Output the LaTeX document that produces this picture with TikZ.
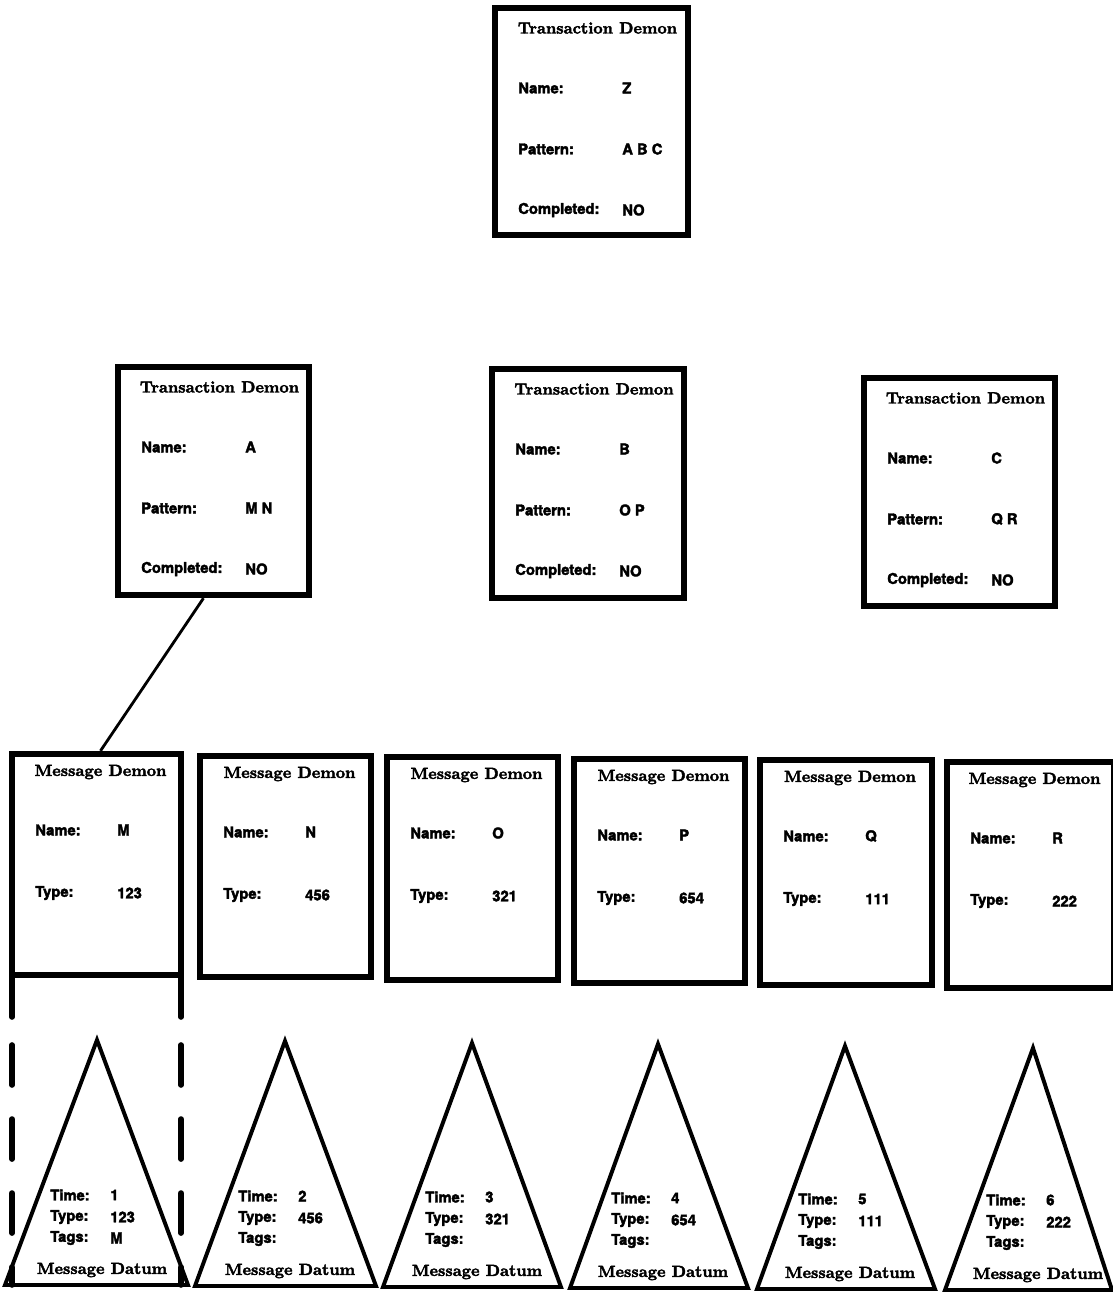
\documentclass[tikz,border=0pt]{standalone}
\usepackage{fontspec}
\usetikzlibrary{fit}
\newfontfamily\ttlfont{lmroman10-bold}[Extension=.otf, FakeBold=2.5]
\newfontfamily\lblfont{TeX Gyre Heros}[FakeBold=2.5]
\tikzset{
  demonbox/.style={draw, line width=4.5pt, inner sep=0pt},
  ttl/.style={font=\ttlfont\fontsize{11.5}{13}\selectfont, inner sep=0pt},
  lbl/.style={anchor=west, font=\lblfont\bfseries\fontsize{10.5}{12}\selectfont, inner sep=0pt},
  tri/.style={draw, line width=2.8pt, line join=miter},
  conn/.style={draw, line width=2pt},
  sideline/.style={draw, line width=4pt, line cap=round},
  sidedash/.style={draw, line width=4pt, line cap=round, dash pattern=on 1.0cm off 0.85cm}
}
\newcommand\TDbox[7]{%
  \node[demonbox, fit={(#2,#3) (#4,#5)}] (#1) {};
  \pgfmathsetmacro\cxx{(#2+#4)/2+6}
  \node[ttl] (#1-title) at (\cxx,#3+20) {Transaction Demon};
  \node[lbl] (#1-nl) at (#2+23,#3+80) {Name:};
  \node[lbl] (#1-nv) at (#2+127,#3+80) {#6};
  \node[lbl] (#1-pl) at (#2+23,#3+141) {Pattern:};
  \node[lbl] (#1-pv) at (#2+127,#3+141) {#7};
  \node[lbl] (#1-cl) at (#2+23,#3+202) {Completed:};
  \node[lbl] (#1-cv) at (#2+127,#3+202) {NO};
}
\newcommand\MDbox[7]{%
  \node[demonbox, fit={(#2,#3) (#4,#5)}] (#1) {};
  \pgfmathsetmacro\cxx{(#2+#4)/2+4}
  \node[ttl] (#1-title) at (\cxx,#3+18) {Message Demon};
  \node[lbl] (#1-nl) at (#2+23,#3+76) {Name:};
  \node[lbl] (#1-nv) at (#2+105,#3+76) {#6};
  \node[lbl] (#1-tl) at (#2+23,#3+139) {Type:};
  \node[lbl] (#1-tv) at (#2+105,#3+139) {#7};
}
\newcommand\MDtri[9]{%
  \coordinate (#1-apex) at (#2,#3);
  \coordinate (#1-bl) at (#4,#6);
  \coordinate (#1-br) at (#5,#6);
  \draw[tri] (#1-apex) -- (#1-bl) -- (#1-br) -- cycle;
  \node[lbl] (#1-il) at (#2-47,#6-90) {Time:};
  \node[lbl] (#1-iv) at (#2+13,#6-90) {#7};
  \node[lbl] (#1-yl) at (#2-47,#6-68) {Type:};
  \node[lbl] (#1-yv) at (#2+13,#6-68) {#8};
  \node[lbl] (#1-gl) at (#2-47,#6-47) {Tags:};
  \node[lbl] (#1-gv) at (#2+13,#6-47) {#9};
  \node[ttl] (#1-title) at (#2+5,#6-15) {Message Datum};
}
\begin{document}
\begin{tikzpicture}[x=0.025cm, y=-0.025cm]
\useasboundingbox (0,0) rectangle (1112,1292);
\fill[white] (0,0) rectangle (1112,1292);

% transaction demons
\TDbox{Z}{495}{8}{688}{235}{Z}{A B C}
\TDbox{A}{118}{367}{309}{595}{A}{M N}
\TDbox{B}{492}{369}{684}{598}{B}{O P}
\TDbox{C}{864}{378}{1055}{606}{C}{Q R}

% message demons
\MDbox{M}{12}{754}{181}{975}{M}{123}
\MDbox{N}{200}{756}{371}{977}{N}{456}
\MDbox{O}{387}{757}{558}{980}{O}{321}
\MDbox{P}{574}{759}{745}{983}{P}{654}
\MDbox{Q}{760}{760}{932}{985}{Q}{111}
\MDbox{R}{947}{762}{1114}{988}{R}{222}

% connector A -> M
\draw[conn] ([xshift=-0.25cm]A.south) -- ([xshift=0.1cm]M.north);

% extended sides of M
\coordinate (ML0) at (12,975);
\coordinate (ML1) at (12,1017);
\coordinate (ML2) at (12,1045);
\coordinate (ML3) at (12,1285);
\coordinate (MR0) at (181,975);
\coordinate (MR1) at (181,1017);
\coordinate (MR2) at (181,1045);
\coordinate (MR3) at (181,1285);
\draw[sideline] (ML0) -- (ML1);
\draw[sideline] (MR0) -- (MR1);
\draw[sidedash] (ML2) -- (ML3);
\draw[sidedash] (MR2) -- (MR3);

% message data
\MDtri{D1}{97}{1040}{5}{188}{1285}{1}{123}{M}
\MDtri{D2}{285}{1041}{195}{376}{1286}{2}{456}{}
\MDtri{D3}{472}{1043}{383}{561}{1287}{3}{321}{}
\MDtri{D4}{658}{1044}{570}{748}{1288}{4}{654}{}
\MDtri{D5}{845}{1046}{757}{935}{1289}{5}{111}{}
\MDtri{D6}{1033}{1048}{945}{1112}{1290}{6}{222}{}
\end{tikzpicture}
\end{document}
